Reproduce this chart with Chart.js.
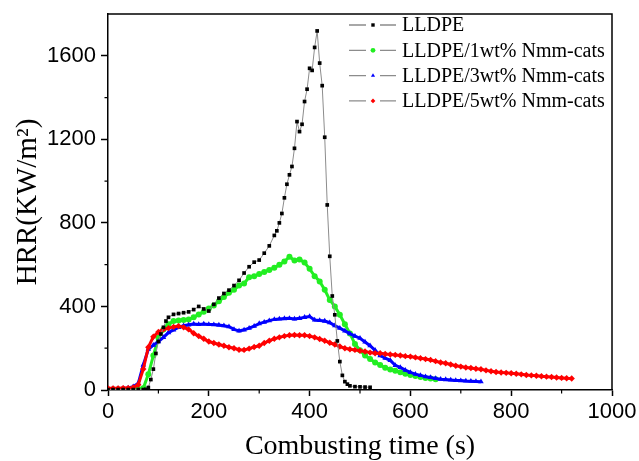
<!DOCTYPE html>
<html>
<head>
<meta charset="utf-8">
<script src="https://cdn.jsdelivr.net/npm/chart.js@4.4.1/dist/chart.umd.min.js"></script>
<style>
  html, body { margin: 0; padding: 0; background: #fff; }
  #wrap { width: 639px; height: 461px; }
</style>
</head>
<body>
<div id="wrap"><canvas id="hrrChart" width="639" height="461"></canvas></div>
<script>
// series names
const seriesLabels = ['LLDPE', 'LLDPE/1wt% Nmm-cats', 'LLDPE/3wt% Nmm-cats', 'LLDPE/5wt% Nmm-cats'];

// sampling times (s) shared by the three filled samples
const sampleTimes = [
  0, 10, 20, 30, 40, 50, 60, 70, 80, 90,
  100, 110, 120, 130, 140, 150, 160, 170, 180, 190,
  200, 210, 220, 230, 240, 250, 260, 270, 280, 290,
  300, 310, 320, 330, 340, 350, 360, 370, 380, 390,
  400, 410, 420, 430, 440, 450, 460, 470, 480, 490,
  500, 510, 520, 530, 540, 550, 560, 570, 580, 590,
  600, 610, 620, 630, 640, 650, 660, 670, 680, 690,
  700, 710, 720, 730, 740, 750, 760, 770, 780, 790,
  800, 810, 820, 830, 840, 850, 860, 870, 880, 890,
  900, 910, 920
];

// neat LLDPE is read more finely around its peak
const pureTimes = [
  0, 10, 20, 30, 40, 50, 60, 70,
  75, 80, 85, 90, 95, 100, 105, 110, 115, 120,
  130, 140, 150, 160, 170, 180, 190, 200, 210, 220, 230, 240,
  250, 260, 270, 280, 290, 300, 310, 320, 330,
  335, 340, 345, 350, 355, 360, 365, 370, 375, 380,
  385, 390, 395, 400, 405, 410, 415, 420, 425, 430,
  435, 440, 445, 450, 455, 460, 465, 470, 475, 480,
  490, 500, 510, 520
];
const pureHRR = [
  2, 2, 2, 2, 2, 2, 2, 2,
  3, 12, 50, 100, 175, 232, 268, 300, 330, 348,
  362, 366, 370, 374, 385, 400, 388, 378, 410, 440, 462, 478,
  500, 525, 560, 590, 612, 622, 655, 690, 740,
  762, 800, 845, 920, 985, 1030, 1070, 1157, 1285, 1237,
  1272, 1381, 1440, 1540, 1530, 1640, 1719, 1565, 1457, 1210,
  886, 640, 450, 360, 235, 136, 70, 40, 28, 20,
  16, 15, 14, 13
];

const hrr1wt = [
  2, 2, 2, 2, 2, 3, 5, 8, 75, 165,
  250, 290, 315, 330, 333, 335, 338, 348, 362, 375,
  390, 405, 425, 445, 465, 480, 500, 510, 540, 545,
  555, 565, 575, 585, 600, 615, 638, 620, 625, 610,
  580, 545, 520, 480, 431, 400, 360, 315, 271, 220,
  190, 165, 148, 132, 120, 106, 98, 92, 85, 78,
  72, 67, 62, 58, 55, 52
];

const hrr3wt = [
  6, 6, 6, 8, 10, 16, 32, 120, 195, 215,
  232, 252, 275, 288, 300, 308, 312, 316, 314, 316,
  314, 313, 311, 308, 303, 290, 283, 288, 296, 306,
  318, 325, 332, 338, 340, 342, 343, 340, 343, 348,
  352, 335, 333, 330, 322, 308, 296, 283, 270, 258,
  248, 230, 212, 190, 165, 152, 142, 118, 108, 95,
  84, 76, 70, 64, 60, 55, 52, 50, 48, 46,
  45, 43, 42, 41, 40
];

const hrr5wt = [
  8, 8, 8, 9, 9, 12, 25, 100, 205, 255,
  278, 290, 296, 302, 306, 300, 290, 272, 258, 245,
  232, 225, 218, 212, 205, 200, 193, 192, 198, 206,
  212, 225, 236, 245, 252, 258, 262, 263, 262, 262,
  258, 252, 244, 236, 226, 218, 208, 200, 195, 192,
  188, 184, 179, 176, 176, 172, 170, 168, 165, 162,
  160, 156, 152, 148, 144, 138, 132, 128, 122, 116,
  112, 108, 105, 102, 99, 94, 90, 86, 84, 82,
  80, 78, 75, 72, 70, 68, 66, 64, 62, 60,
  58, 56, 55
];

// axis ticks
const xTicks = [0, 200, 400, 600, 800, 1000];
const xMinor = [100, 300, 500, 700, 900];
const yTicks = [0, 400, 800, 1200, 1600];
const yMinor = [200, 600, 1000, 1400];

function toPoints(times, values) {
  return values.map((v, i) => ({ x: times[i], y: v }));
}

const markerColors = ['#000000', '#22ee22', '#0000ff', '#ff0000'];
const markerStyles = ['rect', 'circle', 'triangle', 'rectRot'];
const markerSizes = [2.6, 3, 3.2, 3.2];
// the dense Origin markers of the filled samples read as a coloured band
const lineColors = ['#8c8c8c', '#22ee22', '#0000ff', '#ff0000'];
const lineWidths = [1, 3, 3, 3];

const seriesData = [
  toPoints(pureTimes, pureHRR),
  toPoints(sampleTimes, hrr1wt),
  toPoints(sampleTimes, hrr3wt),
  toPoints(sampleTimes, hrr5wt)
];

const datasets = seriesData.map((pts, i) => ({
  label: seriesLabels[i],
  data: pts,
  borderColor: lineColors[i],
  borderWidth: lineWidths[i],
  pointStyle: markerStyles[i],
  pointRadius: markerSizes[i],
  pointBackgroundColor: markerColors[i],
  pointBorderColor: markerColors[i],
  pointBorderWidth: 0,
  tension: 0,
  order: i === 0 ? 0 : 4 - i
}));

// frame, minor ticks and the Origin-style legend
const framePlugin = {
  id: 'framePlugin',
  afterDraw(chart) {
    const ctx = chart.ctx;
    const a = chart.chartArea;
    const xs = chart.scales.x;
    const ys = chart.scales.y;
    ctx.save();
    ctx.strokeStyle = '#000';
    ctx.lineWidth = 1.5;
    ctx.beginPath();
    ctx.moveTo(a.left, a.top);
    ctx.lineTo(a.right, a.top);
    ctx.lineTo(a.right, a.bottom);
    ctx.stroke();

    ctx.lineWidth = 1.2;
    ctx.beginPath();
    xMinor.forEach(v => {
      const px = xs.getPixelForValue(v);
      ctx.moveTo(px, a.bottom);
      ctx.lineTo(px, a.bottom + 3.5);
    });
    yMinor.forEach(v => {
      const py = ys.getPixelForValue(v);
      ctx.moveTo(a.left, py);
      ctx.lineTo(a.left - 3.5, py);
    });
    ctx.stroke();

    // legend
    ctx.font = '20px "Liberation Serif", "Times New Roman", serif';
    ctx.textBaseline = 'middle';
    ctx.textAlign = 'left';
    chart.data.datasets.forEach((ds, i) => {
      const y = a.top + 11 + i * 25.3;
      ctx.strokeStyle = '#8c8c8c';
      ctx.lineWidth = 1.3;
      ctx.beginPath();
      ctx.moveTo(349, y); ctx.lineTo(366, y);
      ctx.moveTo(380, y); ctx.lineTo(396, y);
      ctx.stroke();
      ctx.fillStyle = ds.pointBackgroundColor;
      ctx.strokeStyle = ds.pointBorderColor;
      Chart.helpers.drawPoint(ctx, { pointStyle: ds.pointStyle, radius: 2.4, borderWidth: 0, rotation: 0 }, 373, y);
      ctx.fillStyle = '#000';
      ctx.fillText(ds.label, 402, y + 1);
    });
    ctx.restore();
  }
};

const ctx = document.getElementById('hrrChart').getContext('2d');
new Chart(ctx, {
  type: 'line',
  data: { datasets: datasets },
  options: {
    responsive: false,
    devicePixelRatio: 1,
    animation: false,
    layout: { padding: { top: 14, right: 27, left: 0, bottom: 0 } },
    plugins: {
      legend: { display: false },
      tooltip: { enabled: false }
    },
    scales: {
      x: {
        type: 'linear',
        min: 0,
        max: 1000,
        afterBuildTicks: scale => { scale.ticks = xTicks.map(v => ({ value: v })); },
        ticks: {
          color: '#000',
          font: { family: '"Liberation Sans", Arial, sans-serif', size: 22 },
          padding: 3,
          maxRotation: 0,
          autoSkip: false,
          callback: v => String(v)
        },
        grid: { drawOnChartArea: false, tickLength: 6, tickColor: '#000', tickWidth: 1.5 },
        border: { color: '#000', width: 1.5 },
        title: {
          display: true,
          text: 'Combusting time (s)',
          color: '#000',
          font: { family: '"Liberation Serif", "Times New Roman", serif', size: 28, lineHeight: 1 },
          padding: { top: 0, bottom: 0 }
        },
        afterFit: scale => {
          scale.height = 71;
          scale.paddingLeft = 0;
          scale.paddingRight = 0;
        }
      },
      y: {
        type: 'linear',
        min: 0,
        max: 1800,
        afterBuildTicks: scale => { scale.ticks = yTicks.map(v => ({ value: v })); },
        ticks: {
          color: '#000',
          font: { family: '"Liberation Sans", Arial, sans-serif', size: 22 },
          padding: 5,
          callback: v => String(v)
        },
        grid: { drawOnChartArea: false, tickLength: 7, tickColor: '#000', tickWidth: 1.5 },
        border: { color: '#000', width: 1.5 },
        title: {
          display: true,
          text: 'HRR(KW/m²)',
          color: '#000',
          font: { family: '"Liberation Serif", "Times New Roman", serif', size: 29, lineHeight: 1.2 },
          padding: { top: 11, bottom: 0 }
        },
        afterFit: scale => {
          scale.width = 108;
          scale.paddingTop = 0;
          scale.paddingBottom = 0;
        }
      }
    }
  },
  plugins: [framePlugin]
});
</script>
</body>
</html>
